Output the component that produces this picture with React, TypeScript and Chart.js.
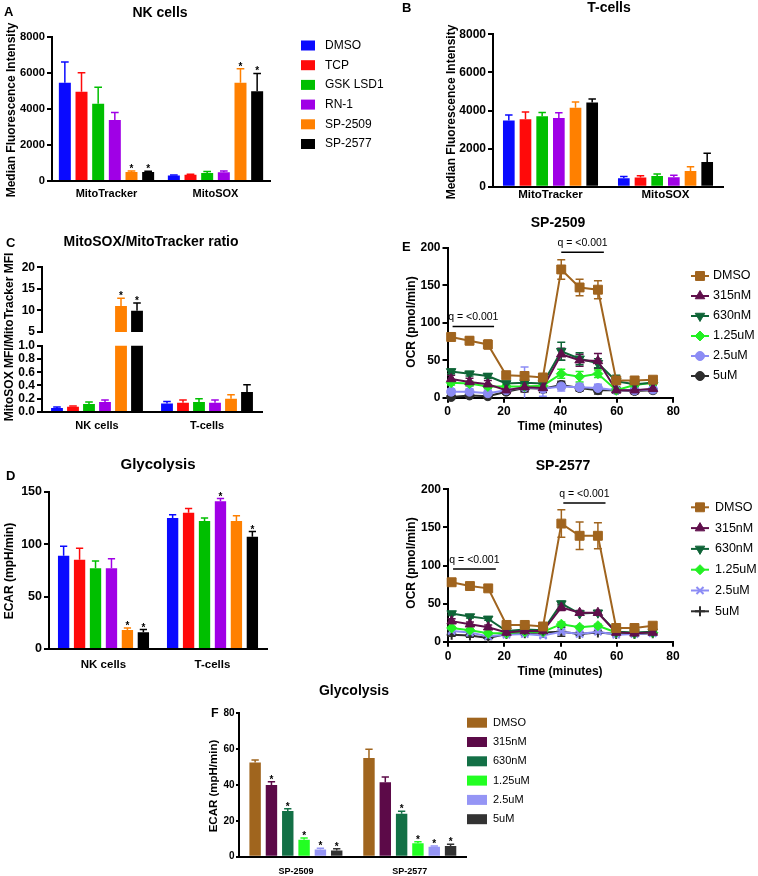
import React, { useEffect, useRef } from 'react';
import { Chart, registerables } from 'chart.js';
import { drawPoint } from 'chart.js/helpers';

Chart.register(...registerables);

const W = 758;
const H = 876;
const FONT = "'Liberation Sans', Arial, Helvetica, sans-serif";

/* ---------------- data: panels A–D ---------------- */
const treatments = ['DMSO', 'TCP', 'GSK LSD1', 'RN-1', 'SP-2509', 'SP-2577'];
const treatmentColors = ['#0A0AFF', '#FF0A0A', '#00BF00', '#A000E6', '#FF8000', '#000000'];

const mfiCategories = ['MitoTracker', 'MitoSOX'];
const mfiTicks = [0, 2000, 4000, 6000, 8000];
// rows = treatments, columns = [MitoTracker, MitoSOX]
const nkMfiMean = [[5450, 300], [4950, 350], [4280, 450], [3380, 480], [500, 5450], [500, 4980]];
const nkMfiSem = [[1150, 30], [1050, 30], [920, 80], [420, 80], [60, 780], [40, 980]];
const nkMfiStars = [[0, 0], [0, 0], [0, 0], [0, 0], [1, 1], [1, 1]];
const tMfiMean = [[3480, 450], [3540, 480], [3700, 560], [3600, 500], [4150, 820], [4420, 1300]];
const tMfiSem = [[280, 80], [380, 90], [200, 110], [280, 100], [300, 230], [180, 450]];

const ratioCategories = ['NK cells', 'T-cells'];
const ratioTopTicks = [5, 10, 15, 20];
const ratioBottomTicks = [0, 0.2, 0.4, 0.6, 0.8, 1.0];
const ratioMean = [[0.06, 0.13], [0.08, 0.14], [0.12, 0.15], [0.15, 0.14], [11.0, 0.2], [9.9, 0.3]];
const ratioSem = [[0.015, 0.03], [0.012, 0.04], [0.03, 0.05], [0.03, 0.04], [1.8, 0.06], [1.8, 0.11]];
const ratioStars = [[0, 0], [0, 0], [0, 0], [0, 0], [1, 0], [1, 0]];

const ecarCategories = ['NK cells', 'T-cells'];
const ecarTicks = [0, 50, 100, 150];
const ecarMean = [[89, 125], [85, 130], [77, 122], [77, 141], [18, 122], [16, 107]];
const ecarSem = [[9, 3], [11, 4], [7, 3], [9, 2.5], [2, 5], [2.5, 5]];
const ecarStars = [[0, 0], [0, 0], [0, 0], [0, 1], [1, 0], [1, 1]];

/* ---------------- data: panels E–F ---------------- */
const doses = ['DMSO', '315nM', '630nM', '1.25uM', '2.5uM', '5uM'];
const doseLineColors = ['#A0641E', '#5F0F4B', '#0F6437', '#23F023', '#8C8CF5', '#2D2D2D'];
const doseBarColors = ['#A0651E', '#5C0A48', '#137046', '#22FF22', '#9595F5', '#333333'];

const timeMinutes = [1.3, 7.8, 14.3, 20.8, 27.3, 33.8, 40.3, 46.8, 53.3, 59.8, 66.3, 72.8];
const timeTicks = [0, 20, 40, 60, 80];
const ocrTicks = [0, 50, 100, 150, 200];

const ocr2509Mean = [
  [81, 76, 71, 30, 29, 27, 171, 147, 144, 23, 23, 24],
  [25, 21, 18, 10, 14, 13, 58, 50, 49, 10, 10, 12],
  [35, 32, 29, 19, 20, 19, 62, 52, 46, 22, 18, 20],
  [20, 19, 15, 15, 15, 16, 32, 28, 32, 10, 17, 20],
  [8, 8, 6, 10, 14, 12, 15, 14, 13, 10, 10, 11],
  [1, 3, 2, 8, 13, 12, 17, 13, 10, 10, 9, 10],
];
const ocr2509Sem = [
  [5, 5, 6, 3, 4, 3, 13, 11, 12, 4, 3, 3],
  [5, 5, 5, 4, 6, 5, 8, 8, 10, 4, 5, 4],
  [3, 3, 3, 3, 4, 3, 12, 8, 6, 8, 3, 3],
  [3, 3, 3, 3, 4, 3, 6, 7, 5, 3, 3, 3],
  [4, 4, 4, 4, 27, 10, 6, 5, 5, 3, 3, 3],
  [2, 2, 2, 3, 5, 5, 5, 4, 5, 3, 3, 3],
];
const ocr2577Mean = [
  [78, 73, 70, 22, 22, 20, 155, 139, 139, 18, 18, 21],
  [27, 23, 19, 12, 14, 14, 45, 38, 38, 12, 11, 12],
  [37, 33, 30, 14, 16, 15, 50, 37, 38, 13, 12, 13],
  [18, 15, 11, 11, 13, 13, 23, 19, 21, 12, 11, 12],
  [14, 12, 7, 9, 10, 8, 13, 10, 13, 9, 10, 11],
  [9, 8, 5, 10, 11, 12, 13, 10, 12, 10, 10, 11],
];
const ocr2577Sem = [
  [4, 4, 4, 3, 3, 2, 18, 18, 17, 3, 3, 3],
  [3, 3, 3, 2, 2, 2, 4, 3, 3, 2, 2, 2],
  [2, 2, 2, 2, 2, 2, 3, 2, 2, 2, 2, 2],
  [2, 2, 2, 2, 2, 2, 3, 2, 2, 2, 2, 2],
  [2, 2, 2, 2, 2, 2, 3, 2, 2, 2, 2, 2],
  [2, 2, 2, 2, 2, 2, 6, 2, 2, 2, 2, 2],
];
const markerStyles2509 = ['rect', 'triangle', 'triangle', 'rectRot', 'circle', 'circle'];
const markerStyles2577 = ['rect', 'triangle', 'triangle', 'rectRot', 'crossRot', 'cross'];
const markerRotations = [0, 0, 180, 0, 0, 0];
const markerRadii2509 = [6.3, 5.5, 5.5, 5, 4.5, 4.5];
const markerRadii2577 = [6.3, 5.5, 5.5, 5, 5, 5];

const qNotes2509 = [
  { from: 1.8, to: 16.5, y: 95, text: 'q = <0.001' },
  { from: 40.3, to: 55.4, y: 194, text: 'q = <0.001' },
];
const qNotes2577 = [
  { from: 1.8, to: 17, y: 95.5, text: 'q = <0.001' },
  { from: 41, to: 56, y: 182, text: 'q = <0.001' },
];

const glyCategories = ['SP-2509', 'SP-2577'];
const glyTicks = [0, 20, 40, 60, 80];
const glyMean = [[52.5, 55], [40, 41.5], [25.5, 24], [9.5, 7.5], [4, 5.5], [3.5, 6]];
const glySem = [[1.5, 5], [1.8, 3], [1.2, 1.3], [1, 0.8], [0.7, 0.4], [1, 1]];
const glyStars = [[0, 0], [1, 0], [1, 1], [1, 1], [1, 1], [1, 1]];

/* ---------------- drawing helpers ---------------- */
const fnt = (size: number, weight = 'bold') => `${weight} ${size}px ${FONT}`;

function drawErrors(chart: any) {
  const ctx = chart.ctx;
  const ys = chart.scales.y;
  const area = chart.chartArea;
  chart.data.datasets.forEach((ds: any, di: number) => {
    if (!ds.errors) return;
    const meta = chart.getDatasetMeta(di);
    const isBar = meta.type === 'bar';
    ctx.save();
    if (!isBar) {
      ctx.beginPath();
      ctx.rect(area.left - 10, area.top - 10, area.right - area.left + 20, area.bottom - area.top + 10);
      ctx.clip();
    }
    ctx.strokeStyle = ds.borderColor || ds.backgroundColor;
    ctx.lineWidth = 1.5;
    meta.data.forEach((el: any, i: number) => {
      const raw = ds.data[i];
      const v = typeof raw === 'number' ? raw : raw && raw.y;
      const e = ds.errors[i];
      if (v == null || e == null) return;
      if (v < ys.min || v > ys.max) return;
      const x = el.x;
      const hw = isBar ? el.width * 0.32 : 4;
      const yTop = ys.getPixelForValue(v + e);
      const yBot = isBar ? ys.getPixelForValue(v) : ys.getPixelForValue(v - e);
      ctx.beginPath();
      ctx.moveTo(x, yBot);
      ctx.lineTo(x, yTop);
      ctx.moveTo(x - hw, yTop);
      ctx.lineTo(x + hw, yTop);
      if (!isBar) {
        ctx.moveTo(x - hw, yBot);
        ctx.lineTo(x + hw, yBot);
      }
      ctx.stroke();
    });
    ctx.restore();
  });
}

function drawStars(chart: any) {
  const ctx = chart.ctx;
  const ys = chart.scales.y;
  chart.data.datasets.forEach((ds: any, di: number) => {
    if (!ds.stars) return;
    const meta = chart.getDatasetMeta(di);
    meta.data.forEach((el: any, i: number) => {
      if (!ds.stars[i]) return;
      const v = ds.data[i];
      if (v < ys.min || v > ys.max) return;
      const yTop = ys.getPixelForValue(v + (ds.errors ? ds.errors[i] : 0));
      ctx.save();
      ctx.fillStyle = '#000';
      ctx.font = fnt(10);
      ctx.textAlign = 'center';
      ctx.textBaseline = 'alphabetic';
      ctx.fillText('*', el.x, yTop + 1);
      ctx.restore();
    });
  });
}

function drawTexts(chart: any, texts: any[]) {
  const ctx = chart.ctx;
  texts.forEach((t) => {
    ctx.save();
    ctx.font = fnt(t.size, t.weight || 'bold');
    ctx.fillStyle = '#000';
    ctx.textAlign = t.align || 'center';
    ctx.textBaseline = 'middle';
    ctx.translate(t.x, t.y);
    if (t.rotate) ctx.rotate(-Math.PI / 2);
    ctx.fillText(t.text, 0, 0);
    ctx.restore();
  });
}

function drawLegend(chart: any, lg: any) {
  const ctx = chart.ctx;
  chart.data.datasets.forEach((ds: any, i: number) => {
    const y = lg.y0 + i * lg.step;
    ctx.save();
    if (lg.kind === 'box') {
      ctx.fillStyle = ds.backgroundColor;
      ctx.fillRect(lg.x, y - lg.boxH / 2, lg.boxW, lg.boxH);
    } else {
      ctx.strokeStyle = ds.borderColor;
      ctx.lineWidth = 2;
      ctx.beginPath();
      ctx.moveTo(lg.x - lg.half, y);
      ctx.lineTo(lg.x + lg.half, y);
      ctx.stroke();
      ctx.fillStyle = ds.pointBackgroundColor;
      ctx.strokeStyle = ds.pointBorderColor;
      ctx.lineWidth = ds.pointBorderWidth;
      drawPoint(ctx, {
        pointStyle: ds.pointStyle,
        radius: ds.pointRadius,
        rotation: ds.pointRotation || 0,
        borderWidth: ds.pointBorderWidth,
      } as any, lg.x, y);
    }
    ctx.fillStyle = '#000';
    ctx.font = fnt(lg.size, 'normal');
    ctx.textAlign = 'left';
    ctx.textBaseline = 'middle';
    ctx.fillText(ds.label, lg.textX, y);
    ctx.restore();
  });
}

function drawNotes(chart: any, notes: any[]) {
  const ctx = chart.ctx;
  const xs = chart.scales.x;
  const ys = chart.scales.y;
  notes.forEach((n) => {
    const x0 = xs.getPixelForValue(n.from);
    const x1 = xs.getPixelForValue(n.to);
    const y = ys.getPixelForValue(n.y);
    ctx.save();
    ctx.strokeStyle = '#000';
    ctx.lineWidth = 1.5;
    ctx.beginPath();
    ctx.moveTo(x0, y);
    ctx.lineTo(x1, y);
    ctx.stroke();
    ctx.fillStyle = '#000';
    ctx.font = fnt(10.5, 'normal');
    ctx.textAlign = 'center';
    ctx.textBaseline = 'middle';
    ctx.fillText(n.text, (x0 + x1) / 2, y - 9);
    ctx.restore();
  });
}

function figurePlugin(texts: any[], legend: any, notes: any[] | null) {
  return {
    id: 'figure',
    beforeDatasetsDraw(chart: any) {
      drawErrors(chart);
    },
    afterDatasetsDraw(chart: any) {
      drawStars(chart);
    },
    afterDraw(chart: any) {
      drawTexts(chart, texts || []);
      if (legend) drawLegend(chart, legend);
      if (notes) drawNotes(chart, notes);
    },
  };
}

// y scale box width and x scale box height are chosen so that tick labels are never clipped
const yBoxWidth = (area: any) => Math.min(48, area.l);
const xBoxHeight = (area: any, showX: boolean) => (showX ? Math.min(30, H - area.b) : 0);

function padding(area: any, hx: number) {
  return { left: area.l - yBoxWidth(area), top: area.t, right: W - area.r, bottom: H - area.b - hx };
}

function yScale(area: any, ticks: number[], size: number, fmt: (v: number) => string, tickLen = 5, pad = 2) {
  const yw = yBoxWidth(area);
  return {
    type: 'linear',
    min: ticks[0],
    max: ticks[ticks.length - 1],
    afterBuildTicks: (s: any) => {
      s.ticks = ticks.map((v) => ({ value: v }));
    },
    afterFit: (s: any) => {
      s.width = yw;
    },
    grid: { display: true, drawOnChartArea: false, drawTicks: true, tickLength: tickLen, color: '#000', lineWidth: 2 },
    border: { display: true, color: '#000', width: 2 },
    ticks: {
      color: '#000',
      font: { family: FONT, weight: 'bold', size },
      padding: pad,
      autoSkip: false,
      callback: (v: any) => fmt(Number(v)),
    },
  };
}

function barChart(canvas: HTMLCanvasElement, o: any) {
  const hx = xBoxHeight(o.area, o.showX);
  return new Chart(canvas, {
    type: 'bar',
    data: {
      labels: o.labels,
      datasets: o.names.map((n: string, i: number) => ({
        label: n,
        data: o.means[i],
        errors: o.sems[i],
        stars: o.stars ? o.stars[i] : null,
        backgroundColor: o.colors[i],
        borderWidth: 0,
        categoryPercentage: o.catPct,
        barPercentage: o.barPct,
        clip: 0,
      })),
    } as any,
    options: {
      responsive: false,
      animation: false,
      devicePixelRatio: 1,
      events: [],
      layout: { padding: padding(o.area, hx) },
      plugins: { legend: { display: false }, tooltip: { enabled: false }, title: { display: false } },
      scales: {
        x: {
          type: 'category',
          offset: true,
          display: o.showX,
          grid: { display: false, drawTicks: false },
          border: { display: true, color: '#000', width: 2 },
          ticks: {
            color: '#000',
            font: { family: FONT, weight: 'bold', size: o.catSize },
            padding: o.catPad,
            maxRotation: 0,
            autoSkip: false,
          },
          afterFit: (s: any) => {
            s.height = hx;
          },
        },
        y: yScale(o.area, o.yTicks, o.tickSize, o.yFmt, o.tickLen ?? 5, o.tickPad ?? 2),
      },
    } as any,
    plugins: [figurePlugin(o.texts, o.legend, null) as any],
  });
}

function lineChart(canvas: HTMLCanvasElement, o: any) {
  const hx = xBoxHeight(o.area, true);
  const datasets = o.names.map((n: string, i: number) => ({
    label: n,
    data: o.times.map((t: number, j: number) => ({ x: t, y: o.means[i][j] })),
    errors: o.sems[i],
    borderColor: o.colors[i],
    backgroundColor: o.colors[i],
    pointBackgroundColor: o.colors[i],
    pointBorderColor: o.colors[i],
    pointStyle: o.styles[i],
    pointRadius: o.radii[i],
    pointRotation: o.rotations[i],
    pointBorderWidth: String(o.styles[i]).startsWith('cross') ? 2 : 1,
    borderWidth: 2,
    tension: 0,
    fill: false,
    clip: 10,
  }));
  return new Chart(canvas, {
    type: 'line',
    data: { datasets } as any,
    options: {
      responsive: false,
      animation: false,
      devicePixelRatio: 1,
      events: [],
      layout: { padding: padding(o.area, hx) },
      plugins: { legend: { display: false }, tooltip: { enabled: false }, title: { display: false } },
      scales: {
        x: {
          type: 'linear',
          min: o.xTicks[0],
          max: o.xTicks[o.xTicks.length - 1],
          afterBuildTicks: (s: any) => {
            s.ticks = o.xTicks.map((v: number) => ({ value: v }));
          },
          afterFit: (s: any) => {
            s.height = hx;
          },
          grid: { display: true, drawOnChartArea: false, drawTicks: true, tickLength: 5, color: '#000', lineWidth: 2 },
          border: { display: true, color: '#000', width: 2 },
          ticks: {
            color: '#000',
            font: { family: FONT, weight: 'bold', size: o.tickSize },
            padding: o.xPad,
            maxRotation: 0,
            autoSkip: false,
            callback: (v: any) => String(v),
          },
        },
        y: yScale(o.area, o.yTicks, o.tickSize, (v) => String(v)),
      },
    } as any,
    plugins: [figurePlugin(o.texts, o.legend, o.notes) as any],
  });
}

/* ---------------- panel builders ---------------- */
const makeA = (c: HTMLCanvasElement) =>
  barChart(c, {
    area: { l: 52, t: 36.7, r: 270, b: 181 },
    showX: true,
    labels: mfiCategories,
    names: treatments,
    colors: treatmentColors,
    means: nkMfiMean,
    sems: nkMfiSem,
    stars: nkMfiStars,
    yTicks: mfiTicks,
    yFmt: (v: number) => String(v),
    tickSize: 11.2,
    catSize: 11,
    catPad: 6.4,
    catPct: 0.917,
    barPct: 0.72,
    texts: [
      { text: 'A', x: 4, y: 12, size: 13, align: 'left' },
      { text: 'NK cells', x: 160, y: 13, size: 14 },
      { text: 'Median Fluorescence Intensity', x: 12, y: 110, size: 12, rotate: true },
    ],
    legend: { kind: 'box', x: 301, boxW: 14, boxH: 10, textX: 325, y0: 45.5, step: 19.7, size: 12 },
  });

const makeB = (c: HTMLCanvasElement) =>
  barChart(c, {
    area: { l: 493, t: 34.3, r: 723, b: 186.7 },
    showX: true,
    labels: mfiCategories,
    names: treatments,
    colors: treatmentColors,
    means: tMfiMean,
    sems: tMfiSem,
    stars: null,
    yTicks: mfiTicks,
    yFmt: (v: number) => String(v),
    tickSize: 12,
    catSize: 11.5,
    catPad: 1.5,
    catPct: 0.87,
    barPct: 0.7,
    texts: [
      { text: 'B', x: 402, y: 8, size: 13, align: 'left' },
      { text: 'T-cells', x: 609, y: 8, size: 14 },
      { text: 'Median Fluorescence Intensity', x: 452, y: 112, size: 12, rotate: true },
    ],
  });

const makeCTop = (c: HTMLCanvasElement) =>
  barChart(c, {
    area: { l: 42, t: 267.3, r: 262, b: 332 },
    showX: false,
    labels: ratioCategories,
    names: treatments,
    colors: treatmentColors,
    means: ratioMean,
    sems: ratioSem,
    stars: ratioStars,
    yTicks: ratioTopTicks,
    yFmt: (v: number) => String(v),
    tickSize: 12,
    catSize: 11,
    catPad: 7,
    catPct: 0.873,
    barPct: 0.74,
    texts: [
      { text: 'C', x: 6, y: 243, size: 13, align: 'left' },
      { text: 'MitoSOX/MitoTracker ratio', x: 151, y: 242, size: 14 },
      { text: 'MitoSOX MFI/MitoTracker MFI', x: 10, y: 337, size: 12, rotate: true },
    ],
  });

const makeCBottom = (c: HTMLCanvasElement) =>
  barChart(c, {
    area: { l: 42, t: 345.7, r: 262, b: 412 },
    showX: true,
    labels: ratioCategories,
    names: treatments,
    colors: treatmentColors,
    means: ratioMean,
    sems: ratioSem,
    stars: ratioStars,
    yTicks: ratioBottomTicks,
    yFmt: (v: number) => v.toFixed(1),
    tickSize: 12,
    catSize: 11,
    catPad: 7,
    catPct: 0.873,
    barPct: 0.74,
    texts: [],
  });

const makeD = (c: HTMLCanvasElement) =>
  barChart(c, {
    area: { l: 49, t: 491.7, r: 267, b: 649 },
    showX: true,
    labels: ecarCategories,
    names: treatments,
    colors: treatmentColors,
    means: ecarMean,
    sems: ecarSem,
    stars: ecarStars,
    yTicks: ecarTicks,
    yFmt: (v: number) => String(v),
    tickSize: 12.5,
    catSize: 11.5,
    catPad: 8.5,
    catPct: 0.878,
    barPct: 0.71,
    texts: [
      { text: 'D', x: 6, y: 476, size: 13, align: 'left' },
      { text: 'Glycolysis', x: 158, y: 465, size: 15 },
      { text: 'ECAR (mpH/min)', x: 10, y: 571, size: 12, rotate: true },
    ],
  });

const makeE1 = (c: HTMLCanvasElement) =>
  lineChart(c, {
    area: { l: 447.5, t: 247.7, r: 673.3, b: 397.7 },
    names: doses,
    colors: doseLineColors,
    times: timeMinutes,
    means: ocr2509Mean,
    sems: ocr2509Sem,
    styles: markerStyles2509,
    radii: markerRadii2509,
    rotations: markerRotations,
    xTicks: timeTicks,
    yTicks: ocrTicks,
    tickSize: 12,
    xPad: 1.6,
    notes: qNotes2509,
    texts: [
      { text: 'E', x: 402, y: 247, size: 13, align: 'left' },
      { text: 'SP-2509', x: 558, y: 223, size: 14 },
      { text: 'OCR (pmol/min)', x: 412, y: 322, size: 12, rotate: true },
      { text: 'Time (minutes)', x: 560, y: 427, size: 12 },
    ],
    legend: { kind: 'line', x: 700, half: 9, textX: 713, y0: 276, step: 20, size: 12.5 },
  });

const makeE2 = (c: HTMLCanvasElement) =>
  lineChart(c, {
    area: { l: 448, t: 489.3, r: 673, b: 641.7 },
    names: doses,
    colors: doseLineColors,
    times: timeMinutes,
    means: ocr2577Mean,
    sems: ocr2577Sem,
    styles: markerStyles2577,
    radii: markerRadii2577,
    rotations: markerRotations,
    xTicks: timeTicks,
    yTicks: ocrTicks,
    tickSize: 12,
    xPad: 3,
    notes: qNotes2577,
    texts: [
      { text: 'SP-2577', x: 563, y: 466, size: 14 },
      { text: 'OCR (pmol/min)', x: 412, y: 563, size: 12, rotate: true },
      { text: 'Time (minutes)', x: 560, y: 672, size: 12 },
    ],
    legend: { kind: 'line', x: 700, half: 9, textX: 715, y0: 507.3, step: 20.8, size: 12.5 },
  });

const makeF = (c: HTMLCanvasElement) =>
  barChart(c, {
    area: { l: 239, t: 713.3, r: 466.7, b: 856.7 },
    showX: true,
    labels: glyCategories,
    names: doses,
    colors: doseBarColors,
    means: glyMean,
    sems: glySem,
    stars: glyStars,
    yTicks: glyTicks,
    yFmt: (v: number) => String(v),
    tickSize: 10,
    tickLen: 3,
    tickPad: 1.5,
    catSize: 9,
    catPad: 9.3,
    catPct: 0.86,
    barPct: 0.7,
    texts: [
      { text: 'F', x: 211, y: 714, size: 12.5, align: 'left' },
      { text: 'Glycolysis', x: 354, y: 691, size: 14 },
      { text: 'ECAR (mpH/min)', x: 214, y: 786, size: 11.5, rotate: true },
    ],
    legend: { kind: 'box', x: 467, boxW: 20, boxH: 10, textX: 493, y0: 722.7, step: 19.3, size: 11 },
  });

const makers = [makeA, makeB, makeCTop, makeCBottom, makeD, makeE1, makeE2, makeF];

function ChartCanvas({ make }: { make: (c: HTMLCanvasElement) => Chart }) {
  const ref = useRef<HTMLCanvasElement>(null);
  useEffect(() => {
    const chart = make(ref.current as HTMLCanvasElement);
    return () => chart.destroy();
  }, [make]);
  return (
    <canvas
      ref={ref}
      width={W}
      height={H}
      style={{ position: 'absolute', left: 0, top: 0, width: W, height: H }}
    />
  );
}

export default function App() {
  return (
    <div style={{ position: 'absolute', left: 0, top: 0, width: W, height: H, background: '#fff', overflow: 'hidden' }}>
      {makers.map((m, i) => (
        <ChartCanvas key={i} make={m} />
      ))}
    </div>
  );
}
